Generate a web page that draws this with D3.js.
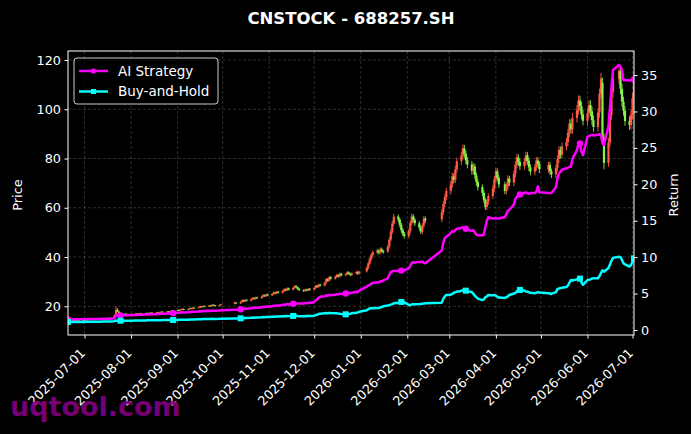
<!DOCTYPE html>
<html>
<head>
<meta charset="utf-8">
<script src="https://cdn.jsdelivr.net/npm/d3@7"></script>
<style>
  html, body { margin: 0; padding: 0; background: #000; }
  svg { display: block; font-family: "DejaVu Sans", sans-serif; }
</style>
</head>
<body>
<svg id="chart" width="691" height="434"></svg>
<script>
// Trading calendar (SSE): weekdays between these dates, minus exchange holidays
const startDate = "2025-06-20";
const endDate = "2026-07-02";
const holidays = [
  "2025-10-01", "2025-10-02", "2025-10-03", "2025-10-06", "2025-10-07", "2025-10-08",
  "2026-01-01", "2026-01-02",
  "2026-02-16", "2026-02-17", "2026-02-18", "2026-02-19", "2026-02-20", "2026-02-23",
  "2026-04-06", "2026-05-01", "2026-05-04", "2026-05-05", "2026-06-19"
];

// Daily OHLC, one row per week
const open = [
  14.0,
  14.2, 14.1, 14.3, 14.2, 14.4,
  14.3, 14.5, 14.4, 14.6, 14.5,
  14.7, 14.6, 14.8, 14.7, 14.9,
  14.8, 15.0, 14.9, 15.1, 15.3,
  15.3, 16.6, 18.5, 17.8, 17.2,
  17.0, 16.8, 16.9, 16.6, 16.7,
  16.9, 17.0, 16.8, 17.1, 17.0,
  17.2, 17.1, 17.3, 17.2, 17.4,
  17.3, 17.5, 17.4, 17.6, 17.8,
  17.7, 17.9, 17.8, 18.0, 18.2,
  18.2, 18.5, 18.3, 18.7, 18.9,
  18.6, 18.8, 19.2, 19.0, 19.4,
  19.3, 19.6, 19.9, 19.7, 20.1,
  19.9, 20.3, 20.1, 20.6, 20.4,
  20.2, 20.5,
  21.0, 21.5,
  21.2, 21.8, 22.4, 22.0, 22.6,
  22.3, 22.9, 23.4, 23.0, 23.6,
  23.3, 23.9, 24.5, 24.1, 24.8,
  24.4, 25.0, 25.6, 25.2, 25.9,
  25.5, 26.2, 26.9, 26.5, 27.3,
  26.8, 27.5, 28.2, 27.7, 27.0,
  26.6, 26.2, 26.8, 26.4, 27.1,
  26.7, 27.4, 28.3, 27.9, 28.8,
  28.4, 29.6, 31.0, 30.4, 31.8,
  31.2, 31.9, 32.7, 32.1, 33.2,
  32.6, 33.0, 33.8, 33.2, 32.7,
  33.4, 33.9, 33.3,
  34.2, 35.6, 37.4, 39.2, 40.8,
  41.9, 42.6, 41.8, 43.1, 42.4,
  42.3, 44.2, 47.1, 50.3, 53.6,
  56.4, 55.2, 53.1, 51.0, 49.4,
  48.5, 50.6, 53.8, 56.5, 55.1,
  53.7, 52.0, 50.3, 52.8, 55.6,
  55.3, 58.2, 61.5, 64.3,
  66.8, 69.5, 72.8, 71.4, 75.6,
  78.9, 81.2, 84.1, 82.0, 79.3,
  77.6, 75.0, 76.8, 73.2, 70.5,
  68.4, 66.1, 63.2, 60.3, 62.4,
  64.8, 67.9, 71.6, 74.8, 72.1,
  69.5, 66.8, 68.7, 71.9,
  70.2, 73.8, 77.5, 80.4, 78.6,
  76.9, 78.8, 81.3, 79.1, 76.4,
  74.7, 76.5, 79.2, 77.8,
  75.6, 77.4, 74.8,
  73.6, 76.2, 79.8, 83.5, 81.6,
  84.9, 86.7, 90.4, 94.2, 91.8,
  96.5, 99.8, 103.6, 101.2, 97.9,
  95.3, 98.4, 101.7, 99.2, 95.6,
  92.8, 98.6, 106.3, 110.8, 88.4,
  78.2, 86.5, 97.8, 106.9,
  112.4, 115.6, 108.3, 103.1, 99.4,
  95.2, 93.6, 97.8, 104.5
];
const high = [
  14.3,
  14.3, 14.4, 14.4, 14.5, 14.5,
  14.6, 14.6, 14.7, 14.7, 14.8,
  14.8, 14.9, 14.9, 15.0, 15.0,
  15.1, 15.1, 15.2, 15.4, 15.4,
  16.7, 19.9, 19.2, 18.0, 17.4,
  17.2, 17.1, 17.0, 16.9, 17.1,
  17.2, 17.1, 17.3, 17.3, 17.4,
  17.4, 17.5, 17.5, 17.6, 17.6,
  17.7, 17.7, 17.8, 18.0, 18.0,
  18.1, 18.1, 18.2, 18.4, 18.4,
  18.8, 18.7, 18.9, 19.2, 19.1,
  19.0, 19.5, 19.4, 19.7, 19.6,
  19.9, 20.2, 20.1, 20.4, 20.3,
  20.6, 20.5, 20.9, 20.8, 20.6,
  20.8, 21.1,
  21.9, 21.7,
  22.1, 22.8, 22.7, 22.9, 22.9,
  23.2, 23.8, 23.7, 23.9, 23.9,
  24.3, 24.9, 24.8, 25.2, 25.1,
  25.4, 26.0, 25.9, 26.3, 26.2,
  26.6, 27.3, 27.2, 27.7, 27.6,
  27.9, 28.6, 28.5, 28.0, 27.3,
  26.9, 27.1, 27.1, 27.4, 27.4,
  27.8, 28.7, 28.7, 29.2, 29.1,
  30.0, 31.5, 31.4, 32.3, 32.2,
  32.4, 33.2, 33.1, 33.7, 33.6,
  33.5, 34.3, 34.2, 33.6, 33.8,
  34.4, 34.3, 34.5,
  36.2, 38.1, 39.9, 41.6, 42.7,
  43.4, 43.2, 43.9, 43.8, 42.9,
  45.0, 48.0, 51.3, 54.7, 57.6,
  57.3, 56.0, 53.9, 51.8, 50.2,
  51.5, 54.8, 57.6, 57.4, 55.9,
  54.6, 52.8, 53.7, 56.6, 56.5,
  59.4, 62.7, 65.6, 68.1,
  70.9, 74.2, 74.1, 77.1, 80.4,
  82.8, 85.7, 85.5, 83.2, 80.6,
  78.9, 78.2, 77.9, 74.4, 71.6,
  69.5, 67.2, 64.1, 63.5, 65.9,
  69.1, 72.9, 76.2, 75.9, 73.2,
  70.6, 69.9, 73.2, 73.0,
  75.1, 78.9, 81.9, 81.7, 79.8,
  80.2, 82.8, 82.6, 80.3, 77.6,
  77.8, 80.6, 80.5, 78.9,
  78.7, 78.6, 75.9,
  77.5, 81.2, 85.0, 84.9, 86.5,
  88.3, 92.1, 96.0, 95.9, 98.4,
  101.7, 105.6, 105.5, 103.1, 99.8,
  100.3, 103.7, 103.6, 101.1, 97.5,
  100.5, 108.4, 114.7, 112.9, 90.1,
  88.2, 99.7, 109.0, 114.6,
  118.3, 117.6, 110.4, 105.1, 101.3,
  97.1, 99.7, 106.6, 114.9
];
const low = [
  13.9,
  14.0, 14.0, 14.1, 14.1, 14.2,
  14.2, 14.3, 14.3, 14.4, 14.4,
  14.5, 14.5, 14.6, 14.6, 14.7,
  14.7, 14.8, 14.8, 15.0, 15.1,
  15.2, 16.4, 17.6, 17.0, 16.8,
  16.6, 16.7, 16.5, 16.5, 16.6,
  16.8, 16.7, 16.7, 16.9, 16.9,
  17.0, 17.0, 17.1, 17.1, 17.2,
  17.2, 17.3, 17.3, 17.5, 17.6,
  17.6, 17.7, 17.7, 17.9, 18.0,
  18.0, 18.1, 18.2, 18.5, 18.4,
  18.4, 18.6, 18.8, 18.8, 19.1,
  19.1, 19.4, 19.5, 19.5, 19.7,
  19.7, 19.9, 19.9, 20.2, 20.0,
  20.0, 20.3,
  20.8, 20.9,
  20.9, 21.5, 21.7, 21.7, 22.0,
  22.0, 22.6, 22.7, 22.7, 23.0,
  23.0, 23.6, 23.8, 23.8, 24.1,
  24.1, 24.7, 24.9, 24.9, 25.2,
  25.1, 25.8, 26.1, 26.1, 26.4,
  26.4, 27.1, 27.3, 26.6, 26.2,
  25.8, 25.9, 26.1, 26.1, 26.4,
  26.4, 27.0, 27.5, 27.5, 28.0,
  28.0, 29.2, 30.0, 30.0, 30.8,
  30.8, 31.5, 31.7, 31.7, 32.2,
  32.2, 32.6, 32.8, 32.2, 32.3,
  33.0, 32.8, 32.9,
  33.7, 35.0, 36.8, 38.6, 40.1,
  41.2, 41.0, 41.1, 41.7, 41.3,
  41.6, 43.4, 46.2, 49.3, 52.6,
  54.1, 52.0, 49.9, 48.4, 47.5,
  47.6, 49.6, 52.8, 54.0, 52.6,
  50.9, 49.3, 49.3, 51.8, 53.8,
  54.2, 57.0, 60.3, 63.0,
  65.4, 68.1, 70.0, 70.0, 74.1,
  77.3, 79.6, 80.4, 77.7, 76.0,
  73.5, 73.5, 71.7, 69.1, 67.0,
  64.8, 61.9, 59.1, 59.1, 61.2,
  63.5, 66.5, 70.2, 70.7, 68.1,
  65.5, 65.5, 67.3, 68.8,
  68.8, 72.3, 76.0, 77.0, 75.4,
  75.4, 77.2, 77.5, 74.9, 73.2,
  73.2, 75.0, 76.2, 74.1,
  74.1, 73.3, 72.1,
  72.1, 74.7, 78.2, 80.0, 80.0,
  83.2, 85.0, 88.6, 90.0, 90.0,
  94.6, 97.8, 99.2, 95.9, 93.4,
  93.4, 96.4, 97.2, 93.7, 90.9,
  90.9, 96.6, 104.2, 86.6, 75.6,
  76.6, 84.8, 95.8, 104.8,
  110.2, 106.1, 101.0, 97.4, 93.3,
  91.7, 91.7, 95.8, 102.4
];
const close = [
  14.2,
  14.1, 14.3, 14.2, 14.4, 14.3,
  14.5, 14.4, 14.6, 14.5, 14.7,
  14.6, 14.8, 14.7, 14.9, 14.8,
  15.0, 14.9, 15.1, 15.3, 15.2,
  16.4, 18.6, 17.9, 17.2, 17.0,
  16.8, 16.9, 16.6, 16.7, 16.9,
  17.0, 16.8, 17.1, 17.0, 17.2,
  17.1, 17.3, 17.2, 17.4, 17.3,
  17.5, 17.4, 17.6, 17.8, 17.7,
  17.9, 17.8, 18.0, 18.2, 18.1,
  18.5, 18.3, 18.7, 18.9, 18.6,
  18.8, 19.2, 19.0, 19.4, 19.3,
  19.6, 19.9, 19.7, 20.1, 19.9,
  20.3, 20.1, 20.6, 20.4, 20.2,
  20.5, 20.8,
  21.5, 21.2,
  21.8, 22.4, 22.0, 22.6, 22.3,
  22.9, 23.4, 23.0, 23.6, 23.3,
  23.9, 24.5, 24.1, 24.8, 24.4,
  25.0, 25.6, 25.2, 25.9, 25.5,
  26.2, 26.9, 26.5, 27.3, 26.8,
  27.5, 28.2, 27.7, 27.0, 26.6,
  26.2, 26.8, 26.4, 27.1, 26.7,
  27.4, 28.3, 27.9, 28.8, 28.4,
  29.6, 31.0, 30.4, 31.8, 31.2,
  31.9, 32.7, 32.1, 33.2, 32.6,
  33.0, 33.8, 33.2, 32.7, 33.4,
  33.9, 33.3, 34.0,
  35.6, 37.4, 39.2, 40.8, 41.9,
  42.6, 41.8, 43.1, 42.4, 42.0,
  44.2, 47.1, 50.3, 53.6, 56.4,
  55.2, 53.1, 51.0, 49.4, 48.5,
  50.6, 53.8, 56.5, 55.1, 53.7,
  52.0, 50.3, 52.8, 55.6, 54.9,
  58.2, 61.5, 64.3, 66.8,
  69.5, 72.8, 71.4, 75.6, 78.9,
  81.2, 84.1, 82.0, 79.3, 77.6,
  75.0, 76.8, 73.2, 70.5, 68.4,
  66.1, 63.2, 60.3, 62.4, 64.8,
  67.9, 71.6, 74.8, 72.1, 69.5,
  66.8, 68.7, 71.9, 70.2,
  73.8, 77.5, 80.4, 78.6, 76.9,
  78.8, 81.3, 79.1, 76.4, 74.7,
  76.5, 79.2, 77.8, 75.6,
  77.4, 74.8, 73.6,
  76.2, 79.8, 83.5, 81.6, 84.9,
  86.7, 90.4, 94.2, 91.8, 96.5,
  99.8, 103.6, 101.2, 97.9, 95.3,
  98.4, 101.7, 99.2, 95.6, 92.8,
  98.6, 106.3, 112.5, 88.4, 78.2,
  86.5, 97.8, 106.9, 112.4,
  115.6, 108.3, 103.1, 99.4, 95.2,
  93.6, 97.8, 104.5, 112.7
];

// Cumulative return (equity multiple) of the two series, right axis
const aiStrategy = [
  1.45,
  1.45, 1.46, 1.46, 1.47, 1.47,
  1.48, 1.48, 1.49, 1.49, 1.50,
  1.50, 1.51, 1.51, 1.52, 1.52,
  1.53, 1.53, 1.54, 1.55, 1.55,
  1.62, 2.02, 2.00, 1.98, 2.00,
  2.01, 2.02, 2.02, 2.03, 2.04,
  2.05, 2.06, 2.07, 2.08, 2.10,
  2.11, 2.12, 2.14, 2.15, 2.17,
  2.18, 2.20, 2.21, 2.23, 2.24,
  2.26, 2.27, 2.29, 2.30, 2.31,
  2.38, 2.35, 2.40, 2.44, 2.41,
  2.43, 2.48, 2.46, 2.51, 2.50,
  2.54, 2.58, 2.55, 2.61, 2.59,
  2.63, 2.61, 2.67, 2.65, 2.63,
  2.66, 2.70,
  2.79, 2.76,
  2.84, 2.91, 2.87, 2.94, 2.91,
  2.98, 3.05, 3.00, 3.08, 3.04,
  3.11, 3.19, 3.14, 3.23, 3.18,
  3.26, 3.34, 3.29, 3.38, 3.33,
  3.42, 3.51, 3.46, 3.56, 3.50,
  3.60, 3.68, 3.64, 3.64, 3.64,
  3.64, 3.70, 3.66, 3.74, 3.70,
  3.85, 4.05, 4.20, 4.45, 4.55,
  4.62, 4.75, 4.70, 4.82, 4.78,
  4.85, 4.92, 4.88, 4.98, 4.94,
  5.00, 5.10, 5.04, 5.04, 5.12,
  5.25, 5.18, 5.40,
  5.95, 6.10, 6.20, 6.35, 6.45,
  6.55, 6.50, 6.70, 6.65, 6.80,
  7.10, 7.55, 7.95, 8.05, 8.10,
  8.12, 8.08, 8.15, 8.10, 8.20,
  8.45, 8.80, 9.20, 9.30, 9.25,
  9.35, 9.30, 9.40, 9.20, 9.15,
  10.9, 12.0, 12.6, 12.8,
  13.3, 13.6, 13.5, 13.7, 13.9,
  14.0, 14.1, 14.0, 13.9, 13.8,
  13.6, 13.7, 13.4, 13.1, 13.0,
  13.0, 13.1, 14.2, 15.0, 15.5,
  15.3, 15.3, 15.4, 15.3, 15.3,
  15.5, 15.9, 16.4, 16.5,
  17.2, 18.0, 18.3, 18.4, 18.6,
  18.8, 18.9, 18.8, 18.7, 18.8,
  18.8, 19.0, 19.7, 18.9,
  18.8, 18.8, 18.8,
  19.6, 20.8, 21.5, 21.7, 22.0,
  22.2, 22.3, 22.4, 22.4, 23.5,
  24.7, 25.6, 25.6, 24.5, 24.0,
  26.5, 26.6, 26.7, 26.8, 26.7,
  26.8, 26.9, 26.8, 25.6, 25.4,
  28.0, 30.6, 33.2, 35.7,
  36.4, 36.2, 35.6, 34.3, 34.3,
  34.3, 34.3, 34.4, 34.4
];
const buyAndHold = [
  1.10,
  1.09, 1.10, 1.10, 1.11, 1.11,
  1.12, 1.11, 1.12, 1.12, 1.13,
  1.13, 1.14, 1.13, 1.14, 1.14,
  1.15, 1.15, 1.16, 1.17, 1.17,
  1.20, 1.30, 1.28, 1.27, 1.27,
  1.27, 1.28, 1.27, 1.28, 1.28,
  1.29, 1.29, 1.30, 1.30, 1.31,
  1.31, 1.32, 1.32, 1.33, 1.33,
  1.34, 1.34, 1.35, 1.35, 1.36,
  1.36, 1.36, 1.37, 1.37, 1.37,
  1.38, 1.39, 1.40, 1.42, 1.41,
  1.42, 1.44, 1.43, 1.45, 1.45,
  1.47, 1.48, 1.47, 1.50, 1.49,
  1.51, 1.50, 1.53, 1.52, 1.51,
  1.53, 1.55,
  1.58, 1.57,
  1.60, 1.63, 1.61, 1.65, 1.64,
  1.67, 1.70, 1.68, 1.72, 1.70,
  1.74, 1.77, 1.75, 1.79, 1.77,
  1.80, 1.84, 1.82, 1.86, 1.84,
  1.87, 1.91, 1.89, 1.93, 1.90,
  1.93, 1.96, 1.94, 1.92, 1.90,
  1.89, 1.92, 1.90, 1.94, 1.92,
  1.96, 2.04, 2.10, 2.20, 2.24,
  2.28, 2.32, 2.30, 2.34, 2.32,
  2.30, 2.28, 2.25, 2.22, 2.20,
  2.15, 2.18, 2.20, 2.22, 2.28,
  2.35, 2.40, 2.50,
  2.70, 2.85, 2.95, 3.00, 2.98,
  3.02, 3.00, 3.10, 3.15, 3.25,
  3.35, 3.42, 3.48, 3.55, 3.66,
  3.75, 3.80, 3.85, 3.90, 3.80,
  3.45, 3.40, 3.50, 3.55, 3.52,
  3.56, 3.58, 3.60, 3.62, 3.66,
  3.75, 4.30, 4.60, 4.80,
  4.85, 4.95, 5.10, 5.20, 5.25,
  5.35, 5.50, 5.45, 5.40, 5.30,
  5.20, 4.95, 4.70, 4.50, 4.30,
  4.10, 4.20, 4.50, 4.60, 4.80,
  4.75, 4.80, 4.70, 4.55, 4.45,
  4.40, 4.50, 4.60, 4.80,
  5.00, 5.10, 5.30, 5.45, 5.50,
  5.40, 5.30, 5.25, 5.20, 5.10,
  5.05, 5.10, 5.20, 5.15,
  5.05, 5.00, 4.95,
  5.20, 5.60, 5.70, 5.75, 5.80,
  5.90, 6.10, 6.50, 6.86, 6.80,
  6.95, 7.10, 7.05, 6.50, 6.20,
  6.86, 6.90, 6.95, 7.05, 7.10,
  7.10, 7.40, 7.80, 8.20, 8.00,
  8.50, 9.00, 9.50, 9.90,
  10.05, 10.00, 9.60, 9.15, 9.00,
  8.70, 8.90, 9.40, 9.84
];

const priceTicks = [20, 40, 60, 80, 100, 120];
const returnTicks = [0, 5, 10, 15, 20, 25, 30, 35];

function drawChart() {
  const width = 691, height = 434;
  const margin = { top: 51, right: 57, bottom: 99, left: 68 };
  const innerW = width - margin.left - margin.right;
  const innerH = height - margin.top - margin.bottom;

  const parse = d3.timeParse("%Y-%m-%d");
  const holidaySet = new Set(holidays);
  const fmt = d3.timeFormat("%Y-%m-%d");
  const first = parse(startDate), last = parse(endDate);
  const dates = d3.timeDay.range(first, d3.timeDay.offset(last, 1))
    .filter(d => d.getDay() !== 0 && d.getDay() !== 6 && !holidaySet.has(fmt(d)));

  const n = Math.min(dates.length, open.length, high.length, low.length,
    close.length, aiStrategy.length, buyAndHold.length);
  if (n !== dates.length) console.warn("length mismatch", dates.length, close.length);

  const rows = d3.range(n).map(i => ({
    date: dates[i], o: open[i], h: high[i], l: low[i], c: close[i],
    ai: aiStrategy[i], bh: buyAndHold[i], i: i
  }));

  const svg = d3.select("#chart");
  svg.append("rect").attr("width", width).attr("height", height).attr("fill", "#000");

  const g = svg.append("g").attr("transform", `translate(${margin.left},${margin.top})`);

  const x = d3.scaleTime().domain([first, last]).range([0, innerW]);
  const yP = d3.scaleLinear().domain([8.35, 123.65]).range([innerH, 0]);
  const yR = d3.scaleLinear().domain([-0.69, 38.3]).range([innerH, 0]);

  const monthTicks = d3.timeMonth.range(parse("2025-07-01"), d3.timeDay.offset(last, 1));

  svg.append("defs").append("clipPath").attr("id", "plotClip")
    .append("rect").attr("width", innerW).attr("height", innerH);

  // Grid
  const grid = g.append("g").attr("stroke", "#808080").attr("stroke-opacity", 0.5)
    .attr("stroke-width", 0.7).attr("stroke-dasharray", "3,2");
  grid.selectAll(".vg").data(monthTicks).join("line")
    .attr("x1", d => x(d)).attr("x2", d => x(d)).attr("y1", 0).attr("y2", innerH);
  grid.selectAll(".hg").data(priceTicks).join("line")
    .attr("x1", 0).attr("x2", innerW).attr("y1", d => yP(d)).attr("y2", d => yP(d));

  const plot = g.append("g").attr("clip-path", "url(#plotClip)");

  // Candles (red up, green down)
  const upColor = "#ff5a44", downColor = "#86f44a";
  const candles = plot.append("g");
  candles.selectAll(".wick").data(rows).join("line")
    .attr("x1", d => x(d.date)).attr("x2", d => x(d.date))
    .attr("y1", d => yP(d.h)).attr("y2", d => yP(d.l))
    .attr("stroke", d => d.c >= d.o ? upColor : downColor)
    .attr("stroke-width", 0.9);
  candles.selectAll(".body").data(rows).join("rect")
    .attr("x", d => x(d.date) - 1.1)
    .attr("width", 2.2)
    .attr("y", d => yP(Math.max(d.o, d.c)))
    .attr("height", d => Math.max(0.8, Math.abs(yP(d.o) - yP(d.c))))
    .attr("fill", d => d.c >= d.o ? upColor : downColor);

  // Return lines
  const series = [
    { key: "ai", name: "AI Strategy", color: "#ff00ff", marker: "circle" },
    { key: "bh", name: "Buy-and-Hold", color: "#00ffff", marker: "square" }
  ];
  const markEvery = 25;

  series.forEach(s => {
    const line = d3.line().x(d => x(d.date)).y(d => yR(d[s.key]));
    plot.append("path").datum(rows)
      .attr("fill", "none").attr("stroke", s.color).attr("stroke-width", 2.5)
      .attr("stroke-linejoin", "round").attr("d", line);
    const marks = rows.filter(d => d.i % markEvery === 0);
    if (s.marker === "circle") {
      plot.selectAll(".m-" + s.key).data(marks).join("circle")
        .attr("cx", d => x(d.date)).attr("cy", d => yR(d[s.key])).attr("r", 3.2)
        .attr("fill", s.color);
    } else {
      plot.selectAll(".m-" + s.key).data(marks).join("rect")
        .attr("x", d => x(d.date) - 3).attr("y", d => yR(d[s.key]) - 3)
        .attr("width", 6).attr("height", 6).attr("fill", s.color);
    }
  });

  // Axes
  const styleAxis = sel => {
    sel.select(".domain").remove();
    sel.selectAll("line").attr("stroke", "#fff");
    sel.selectAll("text").attr("fill", "#fff").attr("font-size", 12.8)
      .attr("font-family", "DejaVu Sans, sans-serif");
  };

  const xAxis = g.append("g").attr("transform", `translate(0,${innerH})`)
    .call(d3.axisBottom(x).tickValues(monthTicks).tickFormat(fmt).tickSize(3.5))
    .call(styleAxis);
  xAxis.selectAll("text")
    .attr("text-anchor", "end").attr("x", 0).attr("y", 0).attr("dy", null)
    .attr("transform", "translate(1,19) rotate(-45)");

  g.append("g")
    .call(d3.axisLeft(yP).tickValues(priceTicks).tickSize(3.5).tickPadding(3.5))
    .call(styleAxis);
  g.append("g").attr("transform", `translate(${innerW},0)`)
    .call(d3.axisRight(yR).tickValues(returnTicks).tickSize(3.5).tickPadding(3.5))
    .call(styleAxis);

  // Frame
  g.append("rect").attr("width", innerW).attr("height", innerH)
    .attr("fill", "none").attr("stroke", "#fff").attr("stroke-width", 1);

  // Axis titles
  svg.append("text").attr("transform", "translate(17,195) rotate(-90)")
    .attr("text-anchor", "middle").attr("dy", "0.35em")
    .attr("fill", "#fff").attr("font-size", 13).text("Price");
  svg.append("text").attr("transform", "translate(673,195) rotate(-90)")
    .attr("text-anchor", "middle").attr("dy", "0.35em")
    .attr("fill", "#fff").attr("font-size", 13).text("Return");

  // Title
  svg.append("text").attr("x", margin.left + innerW / 2).attr("y", 24)
    .attr("text-anchor", "middle").attr("fill", "#fff")
    .attr("font-size", 16.5).attr("font-weight", "bold")
    .text("CNSTOCK - 688257.SH");

  // Legend
  const legend = svg.append("g").attr("transform", "translate(74,58)");
  legend.append("rect").attr("width", 144).attr("height", 46).attr("rx", 3)
    .attr("fill", "#000").attr("fill-opacity", 0.8)
    .attr("stroke", "#cccccc").attr("stroke-width", 1);
  series.forEach((s, k) => {
    const row = legend.append("g").attr("transform", `translate(0,${13 + k * 20.5})`);
    row.append("line").attr("x1", 5).attr("x2", 34).attr("y1", 0).attr("y2", 0)
      .attr("stroke", s.color).attr("stroke-width", 2.5);
    if (s.marker === "circle") {
      row.append("circle").attr("cx", 19.5).attr("cy", 0).attr("r", 2.6).attr("fill", s.color);
    } else {
      row.append("rect").attr("x", 17).attr("y", -2.5).attr("width", 5).attr("height", 5)
        .attr("fill", s.color);
    }
    row.append("text").attr("x", 44).attr("dy", "0.36em").attr("fill", "#fff")
      .attr("font-size", 13.5).text(s.name);
  });

  // Watermark
  svg.append("text").attr("x", 10).attr("y", 416)
    .attr("fill", "#800080").attr("fill-opacity", 0.92)
    .attr("font-size", 27).attr("font-weight", "bold")
    .text("uqtool.com");
}

drawChart();
</script>
</body>
</html>
